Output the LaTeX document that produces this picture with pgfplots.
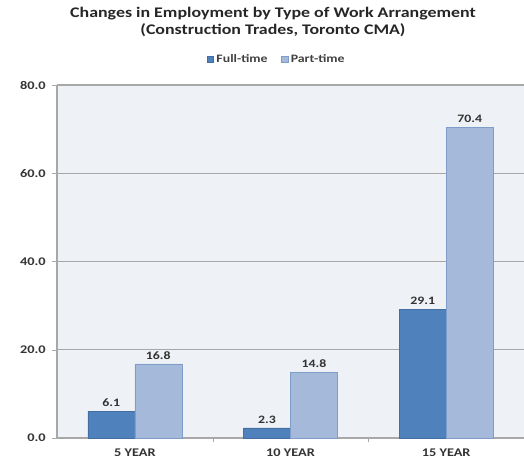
\documentclass[border=0pt]{standalone}
\usepackage{pgfplots}
\pgfplotsset{compat=1.18}
\usepackage{fontspec}
\setmainfont{Carlito}[FakeStretch=1.22]
\definecolor{fullc}{HTML}{4F81BD}
\definecolor{partc}{HTML}{A5B9DA}
\definecolor{partb}{HTML}{7E9DC9}
\definecolor{bgc}{HTML}{EEF1F6}
\definecolor{gridc}{HTML}{A8A8A8}
\begin{document}
\begin{tikzpicture}
\useasboundingbox (0,0) rectangle (393pt,348.75pt);
\begin{axis}[
  at={(42.75pt,20.25pt)}, anchor=south west,
  scale only axis,
  width=350.25pt, height=264.75pt,
  ybar=0pt, bar width=35.25pt,
  xmin=-0.5, xmax=2.5, ymin=0, ymax=80,
  ytick={0,20,40,60,80},
  xtick={0,1,2},
  xticklabels={5 YEAR,10 YEAR,15 YEAR},
  minor xtick={0.5,1.5},
  major x tick style={draw=none},
  minor x tick style={draw=gridc},
  tick align=outside,
  major tick length=3.5pt, minor tick length=3pt,
  ymajorgrids, grid style={gridc, line width=0.8pt},
  axis background/.style={fill=bgc},
  axis x line*=bottom, axis y line*=left,
  axis line style={gridc, line width=0.8pt, -},
  ytick style={gridc},
  every tick label/.append style={font=\fontsize{8.8}{10}\selectfont\bfseries, text=black!80},
  /pgf/number format/assume math mode=true,
  yticklabel style={xshift=-1.5pt, /pgf/number format/.cd, fixed, fixed zerofill, precision=1},
  xticklabel style={yshift=-1pt},
  nodes near coords,
  nodes near coords style={font=\fontsize{8.5}{10}\selectfont\bfseries, text=black!80, /pgf/number format/.cd, fixed, fixed zerofill, precision=1, assume math mode=true},
  title={Changes in Employment by Type of Work Arrangement\\(Construction Trades, Toronto CMA)},
  title style={font=\fontsize{11}{12.75}\selectfont\bfseries, align=center, at={(0.4625,1.18)}, anchor=center, yshift=-6.5pt, text=black!85},
  legend style={at={(0.471,1.0765)}, anchor=center, yshift=-1pt, draw=none, fill=none, legend columns=2,
    font=\fontsize{8.5}{10}\selectfont\bfseries, text=black!75,
    /tikz/every even column/.append style={column sep=8pt}},
  legend image code/.code={\draw[#1, draw opacity=1] (0pt,-2pt) rectangle (5pt,2.5pt);},
]
\addplot[fill=fullc, draw=fullc!85!black] coordinates {(0,6.1) (1,2.3) (2,29.1)};
\addplot[fill=partc, draw=partb] coordinates {(0,16.8) (1,14.8) (2,70.4)};
\legend{Full-time,Part-time}
\end{axis}
\end{tikzpicture}
\end{document}
